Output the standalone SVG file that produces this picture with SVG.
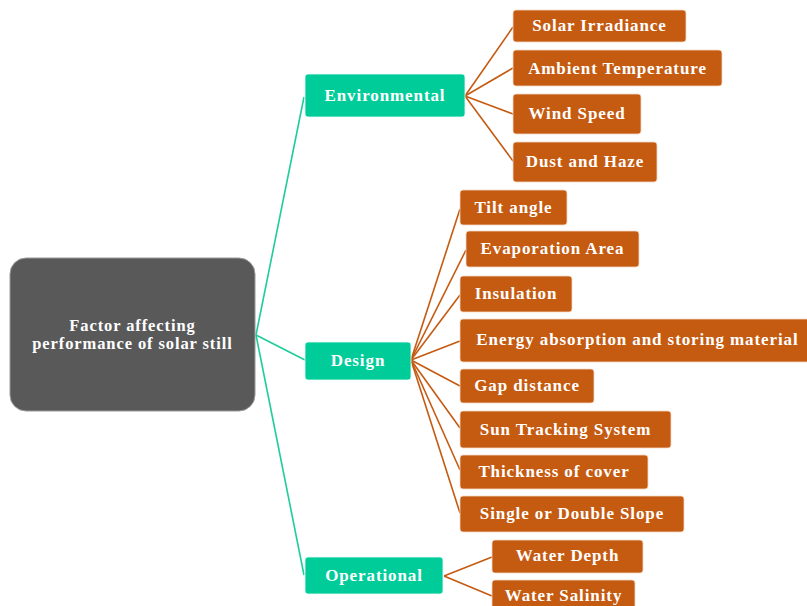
<svg xmlns="http://www.w3.org/2000/svg" width="807" height="606" viewBox="0 0 807 606">
<style>
text{font-family:"Liberation Serif","Times New Roman",serif;font-weight:bold;fill:#ffffff;text-anchor:middle;font-size:17px;letter-spacing:0.9px}
.root text{font-size:16.5px;letter-spacing:0.9px}
.root rect{fill:#595959;stroke:#9a9a9a;stroke-width:1}
.cat rect{fill:#00CC99;stroke:#e8fff8;stroke-width:0.8}
.leaf rect{fill:#C55A11;stroke:#f3d9c6;stroke-width:0.8}
.teal{stroke:#1ECC9A;stroke-width:1.6;fill:none}
.org{stroke:#C55A11;stroke-width:1.6;fill:none}
</style>
<rect width="807" height="606" fill="#ffffff"/>
<g id="connectors">
<line class="teal" x1="256" y1="335" x2="304" y2="97"/>
<line class="teal" x1="256" y1="335" x2="305" y2="360"/>
<line class="teal" x1="256" y1="335" x2="304" y2="575"/>
<line class="org" x1="465" y1="96" x2="513" y2="27"/>
<line class="org" x1="465" y1="96" x2="513" y2="68"/>
<line class="org" x1="465" y1="96" x2="513" y2="114"/>
<line class="org" x1="465" y1="96" x2="513" y2="161"/>
<line class="org" x1="411" y1="360" x2="460" y2="209"/>
<line class="org" x1="411" y1="360" x2="466" y2="250"/>
<line class="org" x1="411" y1="360" x2="460" y2="295"/>
<line class="org" x1="411" y1="360" x2="460" y2="341"/>
<line class="org" x1="411" y1="360" x2="460" y2="386"/>
<line class="org" x1="411" y1="360" x2="460" y2="428"/>
<line class="org" x1="411" y1="360" x2="460" y2="470"/>
<line class="org" x1="411" y1="360" x2="460" y2="513"/>
<line class="org" x1="444" y1="576" x2="492" y2="557"/>
<line class="org" x1="444" y1="576" x2="492" y2="596"/>
</g>
<g id="root" class="root"><rect x="10" y="258" width="245" height="153" rx="16"/><text x="132.5" y="331">Factor affecting</text><text x="132.5" y="349">performance of solar still</text></g>
<g id="environmental" class="cat"><rect x="305" y="74" width="160" height="43" rx="3"/><text x="385" y="101">Environmental</text></g>
<g id="design" class="cat"><rect x="305" y="342" width="106" height="38" rx="3"/><text x="358" y="366">Design</text></g>
<g id="operational" class="cat"><rect x="305" y="557" width="138" height="37" rx="3"/><text x="374" y="581">Operational</text></g>
<g id="solar-irradiance" class="leaf"><rect x="513" y="10" width="173" height="32" rx="3"/><text x="599.5" y="31">Solar Irradiance</text></g>
<g id="ambient-temperature" class="leaf"><rect x="513" y="50" width="209" height="36" rx="3"/><text x="617.5" y="74">Ambient Temperature</text></g>
<g id="wind-speed" class="leaf"><rect x="513" y="94" width="128" height="40" rx="3"/><text x="577" y="119">Wind Speed</text></g>
<g id="dust-haze" class="leaf"><rect x="513" y="142" width="144" height="40" rx="3"/><text x="585" y="167">Dust and Haze</text></g>
<g id="tilt-angle" class="leaf"><rect x="460" y="190" width="107" height="35" rx="3"/><text x="513.5" y="213">Tilt angle</text></g>
<g id="evaporation-area" class="leaf"><rect x="466" y="231" width="173" height="36" rx="3"/><text x="552.5" y="254">Evaporation Area</text></g>
<g id="insulation" class="leaf"><rect x="460" y="276" width="112" height="36" rx="3"/><text x="516" y="299">Insulation</text></g>
<g id="energy" class="leaf"><rect x="460" y="319" width="355" height="43" rx="3"/><text x="637.5" y="345">Energy absorption and storing material</text></g>
<g id="gap-distance" class="leaf"><rect x="460" y="369" width="134" height="34" rx="3"/><text x="527" y="391">Gap distance</text></g>
<g id="sun-tracking" class="leaf"><rect x="460" y="411" width="211" height="37" rx="3"/><text x="565.5" y="435">Sun Tracking System</text></g>
<g id="thickness" class="leaf"><rect x="460" y="455" width="188" height="34" rx="3"/><text x="554" y="477">Thickness of cover</text></g>
<g id="slope" class="leaf"><rect x="460" y="496" width="224" height="36" rx="3"/><text x="572" y="519">Single or Double Slope</text></g>
<g id="water-depth" class="leaf"><rect x="492" y="540" width="151" height="33" rx="3"/><text x="567.5" y="561">Water Depth</text></g>
<g id="water-salinity" class="leaf"><rect x="492" y="580" width="143" height="36" rx="3"/><text x="563.5" y="601">Water Salinity</text></g>
</svg>
